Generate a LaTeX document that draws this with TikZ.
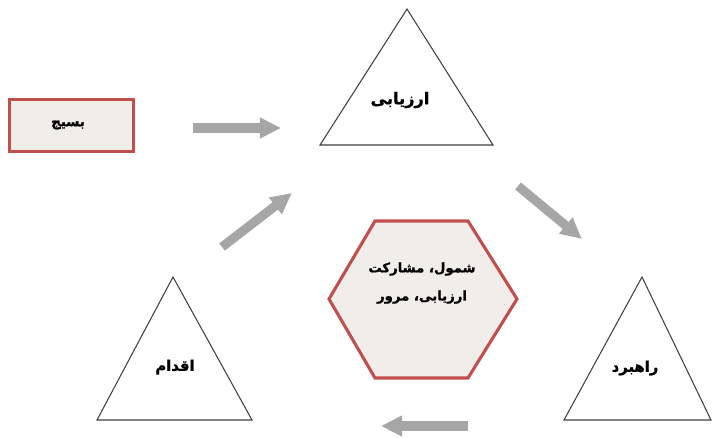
\documentclass[tikz,border=0pt]{standalone}
\usepackage{fontspec}
\newfontfamily\farsifont[Script=Arabic, BoldFeatures={FakeBold=1.2}]{DejaVu Sans}
\TeXXeTstate=1
\definecolor{FrameRed}{HTML}{C0504D}
\definecolor{PaleBg}{HTML}{F1EDE8}
\definecolor{ArrowGray}{HTML}{A6A6A6}
\definecolor{EdgeDark}{HTML}{404040}
\usetikzlibrary{arrows.meta}

\begin{document}
\begin{tikzpicture}[x=0.025cm, y=-0.025cm,
    word/.style={font=\farsifont\bfseries\fontsize{10.5}{12}\selectfont, inner sep=1pt, align=center},
    tri/.style={draw=EdgeDark, line width=0.75pt, fill=white},
    framed/.style={draw=FrameRed, line width=2.2pt, fill=PaleBg},
    flow/.style={-{Triangle[length=15pt, width=14pt]}, line width=6.5pt, ArrowGray}
  ]
  \useasboundingbox (0,0) rectangle (712,437);

  % the three stages
  \draw[tri] (407,9) -- (493,145) -- (320,145) -- cycle;
  \draw[tri] (642,277) -- (711,420) -- (564,420) -- cycle;
  \draw[tri] (173,277) -- (252,420) -- (97,420) -- cycle;
  \node[word, font=\farsifont\bfseries\fontsize{11.5}{13}\selectfont] (eval) at (400,100) {\beginR ارزیابی\endR};
  \node[word] (plan) at (635,368) {\beginR راهبرد\endR};
  \node[word] (act) at (175,367) {\beginR اقدام\endR};

  % start box
  \node[framed, minimum width=3.1cm, minimum height=1.3cm] (mob) at (71.5,125.5) {};
  \node[word, font=\farsifont\bfseries\fontsize{9.5}{11}\selectfont] at (68,125) {\beginR بسیج\endR};

  % centre hexagon
  \draw[framed] (375,221) -- (468,221) -- (517,299) -- (468,378)
    -- (375,378) -- (329,299) -- cycle;
  \node[word, font=\farsifont\bfseries\fontsize{9.4}{10}\selectfont] (core) at (422,283)
    {\beginR شمول، مشارکت\endR\\[10pt]\beginR ارزیابی، مرور\endR};

  % arrows of the cycle
  \coordinate (a1) at (193,128); \coordinate (b1) at (281,128);
  \coordinate (a2) at (518,186); \coordinate (b2) at (582,239);
  \coordinate (a3) at (468,426); \coordinate (b3) at (381,426);
  \coordinate (a4) at (222,247); \coordinate (b4) at (292,193);
  \draw[flow] (a1) -- (b1);
  \draw[flow] (a2) -- (b2);
  \draw[flow] (a3) -- (b3);
  \draw[flow] (a4) -- (b4);
\end{tikzpicture}
\end{document}
